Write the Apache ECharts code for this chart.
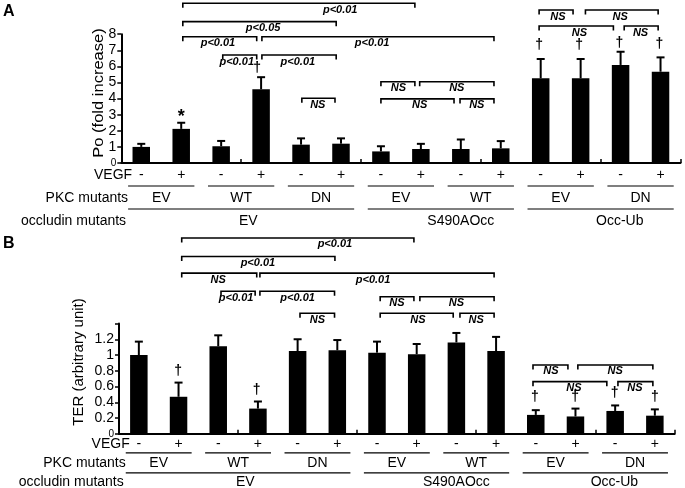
<!DOCTYPE html>
<html><head><meta charset="utf-8">
<script src="https://cdn.jsdelivr.net/npm/echarts@6/dist/echarts.min.js"></script>
<style>html,body{margin:0;padding:0;background:#fff}#c{width:685px;height:488px}</style>
</head><body><div id="c"></div>
<script>
// ---------- data ----------
const vegf = ['-','+','-','+','-','+','-','+','-','+','-','+','-','+'];
const pkcMutants = ['EV','WT','DN','EV','WT','EV','DN'];          // each covers 2 categories
const occludinMutants = ['EV','S490AOcc','Occ-Ub'];
const occludinSpan = [6,4,4];
const occOfCat = [];
occludinMutants.forEach((o,g)=>{ for(let n=0;n<occludinSpan[g];n++) occOfCat.push(o); });
const categories = vegf.map((v,i)=> occOfCat[i]+'/'+pkcMutants[Math.floor(i/2)]+'/'+v);

const poMean = [1.0, 2.12, 1.04, 4.58, 1.14, 1.2, 0.72, 0.87, 0.87, 0.91, 5.26, 5.26, 6.09, 5.67];
const poErr  = [0.19, 0.38, 0.33, 0.75, 0.39, 0.33, 0.32, 0.32, 0.59, 0.45, 1.2, 1.2, 0.82, 0.89];
const terMean = [1.0, 0.47, 1.11, 0.32, 1.05, 1.06, 1.03, 1.01, 1.16, 1.05, 0.24, 0.22, 0.29, 0.23];
const terErr  = [0.17, 0.18, 0.14, 0.09, 0.15, 0.13, 0.14, 0.13, 0.12, 0.18, 0.06, 0.10, 0.07, 0.08];

const poTicks = {min:0, max:8, interval:1};
const terTicks = {min:0, max:1.4, interval:0.2};

// significance brackets: [from category, to category, level, label position, text]
const poBrackets = [
  [1.04, 6.85, 9.92, 4.98, 'p<0.01'],
  [1.04, 4.88, 8.78, 3.05, 'p<0.05'],
  [1.04, 2.89, 7.84, 1.92, 'p<0.01'],
  [3.02, 8.83, 7.84, 5.78, 'p<0.01'],
  [2.04, 2.89, 6.71, 2.39, 'p<0.01'],
  [3.02, 4.88, 6.71, 3.92, 'p<0.01'],
  [4.02, 4.85, 4.02, 4.42, 'NS'],
  [6.0, 6.85, 5.05, 6.44, 'NS'],
  [6.97, 8.83, 5.05, 7.9, 'NS'],
  [6.0, 7.83, 3.98, 6.97, 'NS'],
  [7.98, 8.83, 3.98, 8.4, 'NS'],
  [9.96, 10.81, 9.5, 10.43, 'NS'],
  [11.12, 12.94, 9.5, 11.99, 'NS'],
  [9.96, 11.82, 8.51, 10.97, 'NS'],
  [12.09, 12.94, 8.51, 12.5, 'NS']
];
const terBrackets = [
  [1.08, 6.93, 2.486, 4.94, 'p<0.01'],
  [1.08, 4.94, 2.25, 3.0, 'p<0.01'],
  [1.08, 2.97, 2.04, 2.0, 'NS'],
  [3.05, 8.95, 2.04, 5.9, 'p<0.01'],
  [2.07, 2.93, 1.81, 2.45, 'p<0.01'],
  [3.05, 4.93, 1.81, 4.0, 'p<0.01'],
  [4.06, 4.93, 1.53, 4.5, 'NS'],
  [6.08, 6.93, 1.74, 6.5, 'NS'],
  [7.08, 8.95, 1.74, 8.0, 'NS'],
  [6.08, 7.92, 1.53, 7.03, 'NS'],
  [8.09, 8.95, 1.53, 8.5, 'NS'],
  [9.93, 10.81, 0.874, 10.38, 'NS'],
  [11.06, 12.95, 0.874, 12.0, 'NS'],
  [9.93, 11.79, 0.662, 10.96, 'NS'],
  [12.07, 12.95, 0.662, 12.5, 'NS']
];
// markers above bars: [category, level, symbol]
const poMarks = [[1, 3.1, '*'], [2.9, 5.87, '\u2020'], [9.96, 7.33, '\u2020'], [10.96, 7.33, '\u2020'], [11.97, 7.45, '\u2020'], [12.97, 7.4, '\u2020']];
const terMarks = [[0.99, 0.80, '\u2020'], [2.97, 0.56, '\u2020'], [9.98, 0.47, '\u2020'], [10.99, 0.47, '\u2020'], [11.99, 0.52, '\u2020'], [13.0, 0.47, '\u2020']];

// ---------- layout / style ----------
const FONT = '"Liberation Sans", Arial, Helvetica, sans-serif';
const rows = {
  A: {vegf:12, line1:23, pkc:35, line2:46, occ:58},
  B: {vegf:10, line1:19, pkc:29, line2:39, occ:48}
};
const rowLabelK = {vegf:-0.23, pkc:-0.33, occ:-0.38};
const occLabelAnchor = [2.68, 8.0, 11.98];   // where the group names sit along the axis

const chart = echarts.init(document.getElementById('c'), null, {renderer:'canvas'});

function yAxisCfg(grid, t, fmt){
  return {gridIndex:grid, type:'value', min:t.min, max:t.max, interval:t.interval,
    axisLine:{show:true, onZero:false, lineStyle:{color:'#000', width:2}},
    axisTick:{show:true, inside:false, length:4, lineStyle:{color:'#000', width:1.5}},
    splitLine:{show:false},
    axisLabel:{color:'#000', fontSize:14, fontFamily:FONT, margin:5, formatter:fmt,
      rich:{s:{fontSize:10, fontFamily:FONT, color:'#000'}}}};
}
function catAxis(grid){
  return {gridIndex:grid, type:'category', data:categories, boundaryGap:true,
    axisLine:{show:true, onZero:false, lineStyle:{color:'#000', width:2}},
    axisTick:{show:true, inside:true, length:4, lineStyle:{color:'#000', width:1.5}},
    axisLabel:{show:false}, splitLine:{show:false}};
}
function valAxis(grid){
  return {gridIndex:grid, type:'value', min:-0.5, max:13.5, show:false,
    axisLine:{show:false, onZero:false}, splitLine:{show:false}};
}

function barSeries(xi, yi, vals){
  return {type:'bar', xAxisIndex:xi, yAxisIndex:yi, data:vals, barWidth:17.5,
    itemStyle:{color:'#000'}, silent:true};
}
function errSeries(xi, yi, vals, errs){
  return {type:'custom', xAxisIndex:xi, yAxisIndex:yi, silent:true,
    data: vals.map((m,i)=>[i, m, m+errs[i]]), encode:{x:0, y:[1,2]},
    renderItem:(p, api)=>{
      const i = api.value(0);
      const base = api.coord([i, api.value(1)]), top = api.coord([i, api.value(2)]);
      return {type:'group', children:[
        {type:'line', shape:{x1:top[0], y1:base[1], x2:top[0], y2:top[1]}, style:{stroke:'#000', lineWidth:2}},
        {type:'line', shape:{x1:top[0]-4, y1:top[1], x2:top[0]+4, y2:top[1]}, style:{stroke:'#000', lineWidth:2}}
      ]};
    }};
}
function bracketSeries(xi, yi, list){
  return {type:'custom', xAxisIndex:xi, yAxisIndex:yi, silent:true,
    data: list.map(b=>[b[0], b[1], b[2], b[3]]), encode:{x:[0,1,3], y:2},
    renderItem:(p, api)=>{
      const b = list[p.dataIndex];
      const p1 = api.coord([b[0], b[2]]), p2 = api.coord([b[1], b[2]]), pl = api.coord([b[3], b[2]]);
      return {type:'group', children:[
        {type:'polyline', shape:{points:[[p1[0], p1[1]+4.5],[p1[0], p1[1]],[p2[0], p2[1]],[p2[0], p2[1]+4.5]]},
          style:{stroke:'#000', lineWidth:1.6, fill:null}},
        {type:'text', x:pl[0], y:p1[1]+6.5, style:{text:b[4], font:'italic bold 11px '+FONT, fill:'#000', align:'center', verticalAlign:'middle'}}
      ]};
    }};
}
function markSeries(xi, yi, list){
  return {type:'custom', xAxisIndex:xi, yAxisIndex:yi, silent:true,
    data: list.map(m=>[m[0], m[1]]), encode:{x:0, y:1},
    renderItem:(p, api)=>{
      const m = list[p.dataIndex];
      const c = api.coord([m[0], m[1]]);
      const star = m[2] === '*';
      return {type:'text', x:c[0], y:c[1] + (star ? 4 : 0),
        style:{text:m[2], font:(star ? 'bold 18px ' : 'bold 14px ')+FONT, fill:'#000', align:'center', verticalAlign:'middle'}};
    }};
}
function labelSeries(xi, yi, R){
  const texts = [], lines = [];
  vegf.forEach((s,i)=>texts.push({k:i, dy:R.vegf, text:s, size:14}));
  pkcMutants.forEach((s,j)=>{
    texts.push({k:2*j+0.5, dy:R.pkc, text:s, size:14});
    lines.push({k1:2*j-0.33, k2:2*j+1.33, dy:R.line1});
  });
  let start = 0;
  occludinMutants.forEach((s,g)=>{
    const n = occludinSpan[g];
    texts.push({k:occLabelAnchor[g], dy:R.occ, text:s, size:14});
    lines.push({k1:start-0.33, k2:start+n-0.67, dy:R.line2});
    start += n;
  });
  texts.push({k:rowLabelK.vegf, dy:R.vegf, text:'VEGF', size:14, align:'right'});
  texts.push({k:rowLabelK.pkc, dy:R.pkc, text:'PKC mutants', size:14, align:'right'});
  texts.push({k:rowLabelK.occ, dy:R.occ, text:'occludin mutants', size:14, align:'right'});
  return [
    {type:'custom', xAxisIndex:xi, yAxisIndex:yi, silent:true,
      data:texts.map(t=>[t.k, 0]), encode:{x:0, y:1},
      renderItem:(p, api)=>{
        const t = texts[p.dataIndex]; const c = api.coord([t.k, 0]);
        return {type:'text', x:c[0], y:c[1]+t.dy, style:{text:t.text, font:t.size+'px '+FONT, fill:'#000', align:t.align||'center', verticalAlign:'middle'}};
      }},
    {type:'custom', xAxisIndex:xi, yAxisIndex:yi, silent:true,
      data:lines.map(l=>[l.k1, l.k2, 0]), encode:{x:[0,1], y:2},
      renderItem:(p, api)=>{
        const l = lines[p.dataIndex]; const a = api.coord([l.k1, 0]), b = api.coord([l.k2, 0]);
        return {type:'line', shape:{x1:a[0], y1:a[1]+l.dy, x2:b[0], y2:b[1]+l.dy}, style:{stroke:'#000', lineWidth:1.2}};
      }}
  ];
}

const option = {
  animation:false,
  backgroundColor:'#fff',
  grid:[
    {left:121.3, right:4.5, top:34.2, bottom:488-163, containLabel:false, outerBoundsMode:'none'},
    {left:119, right:10.3, top:323.5, bottom:488-433.8, containLabel:false, outerBoundsMode:'none'}
  ],
  xAxis:[catAxis(0), catAxis(1), valAxis(0), valAxis(1)],
  yAxis:[
    yAxisCfg(0, poTicks, v => v===0 ? '{s|0}' : String(v)),
    yAxisCfg(1, terTicks, v => v > 1.3 ? '' : (v===0 ? '{s|0}' : String(Math.round(v*10)/10)))
  ],
  graphic:[
    {type:'text', left:3, top:4, style:{text:'A', font:'bold 16px '+FONT, fill:'#000'}},
    {type:'text', left:3, top:236, style:{text:'B', font:'bold 16px '+FONT, fill:'#000'}},
    {type:'text', x:99, y:93, rotation:Math.PI/2, scaleX:1.1, style:{text:'Po (fold increase)', font:'15px '+FONT, fill:'#000', align:'center', verticalAlign:'middle'}},
    {type:'text', x:79, y:362, rotation:Math.PI/2, style:{text:'TER (arbitrary unit)', font:'15px '+FONT, fill:'#000', align:'center', verticalAlign:'middle'}}
  ],
  series:[
    barSeries(0, 0, poMean), errSeries(0, 0, poMean, poErr),
    bracketSeries(2, 0, poBrackets), markSeries(2, 0, poMarks),
    ...labelSeries(2, 0, rows.A),
    barSeries(1, 1, terMean), errSeries(1, 1, terMean, terErr),
    bracketSeries(3, 1, terBrackets), markSeries(3, 1, terMarks),
    ...labelSeries(3, 1, rows.B)
  ]
};
chart.setOption(option);
</script></body></html>
